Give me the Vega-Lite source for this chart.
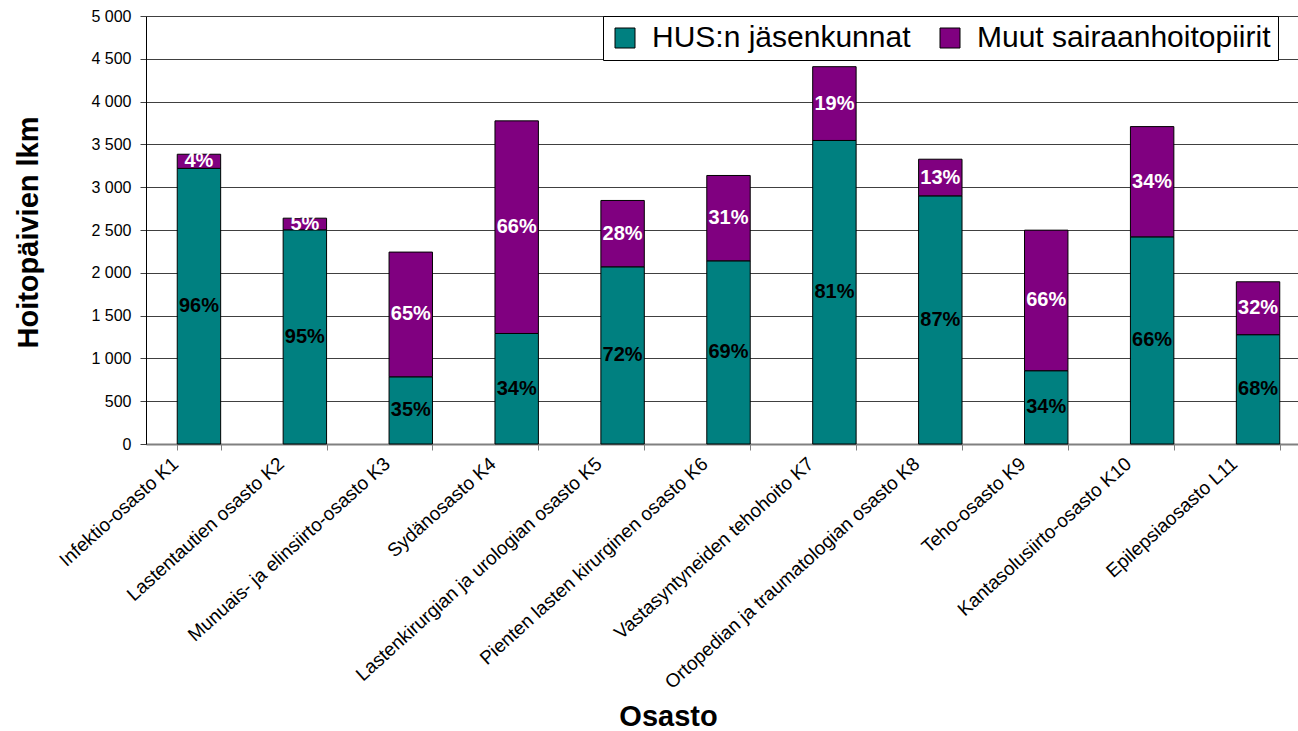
{
  "$schema": "https://vega.github.io/schema/vega-lite/v6.json",
  "autosize": {"type": "none"},
  "padding": {"left": 146, "top": 16, "right": 0, "bottom": 287},
  "width": 1152,
  "height": 428,
  "background": "white",
  "config": {
    "view": {"stroke": null},
    "font": "Liberation Sans",
    "axis": {"labelFont": "Liberation Sans", "titleFont": "Liberation Sans", "labelColor": "black", "titleColor": "black"}
  },
  "data": {
    "values": [
      {"osasto": "Infektio-osasto K1", "ryhma": "HUS:n jäsenkunnat", "paivat": 3220, "osuus": "96%"},
      {"osasto": "Infektio-osasto K1", "ryhma": "Muut sairaanhoitopiirit", "paivat": 165, "osuus": "4%"},
      {"osasto": "Lastentautien osasto K2", "ryhma": "HUS:n jäsenkunnat", "paivat": 2502, "osuus": "95%"},
      {"osasto": "Lastentautien osasto K2", "ryhma": "Muut sairaanhoitopiirit", "paivat": 136, "osuus": "5%"},
      {"osasto": "Munuais- ja elinsiirto-osasto K3", "ryhma": "HUS:n jäsenkunnat", "paivat": 785, "osuus": "35%"},
      {"osasto": "Munuais- ja elinsiirto-osasto K3", "ryhma": "Muut sairaanhoitopiirit", "paivat": 1457, "osuus": "65%"},
      {"osasto": "Sydänosasto K4", "ryhma": "HUS:n jäsenkunnat", "paivat": 1291, "osuus": "34%"},
      {"osasto": "Sydänosasto K4", "ryhma": "Muut sairaanhoitopiirit", "paivat": 2484, "osuus": "66%"},
      {"osasto": "Lastenkirurgian ja urologian osasto K5", "ryhma": "HUS:n jäsenkunnat", "paivat": 2070, "osuus": "72%"},
      {"osasto": "Lastenkirurgian ja urologian osasto K5", "ryhma": "Muut sairaanhoitopiirit", "paivat": 775, "osuus": "28%"},
      {"osasto": "Pienten lasten kirurginen osasto K6", "ryhma": "HUS:n jäsenkunnat", "paivat": 2140, "osuus": "69%"},
      {"osasto": "Pienten lasten kirurginen osasto K6", "ryhma": "Muut sairaanhoitopiirit", "paivat": 997, "osuus": "31%"},
      {"osasto": "Vastasyntyneiden tehohoito K7", "ryhma": "HUS:n jäsenkunnat", "paivat": 3546, "osuus": "81%"},
      {"osasto": "Vastasyntyneiden tehohoito K7", "ryhma": "Muut sairaanhoitopiirit", "paivat": 862, "osuus": "19%"},
      {"osasto": "Ortopedian ja traumatologian osasto K8", "ryhma": "HUS:n jäsenkunnat", "paivat": 2899, "osuus": "87%"},
      {"osasto": "Ortopedian ja traumatologian osasto K8", "ryhma": "Muut sairaanhoitopiirit", "paivat": 428, "osuus": "13%"},
      {"osasto": "Teho-osasto K9", "ryhma": "HUS:n jäsenkunnat", "paivat": 856, "osuus": "34%"},
      {"osasto": "Teho-osasto K9", "ryhma": "Muut sairaanhoitopiirit", "paivat": 1642, "osuus": "66%"},
      {"osasto": "Kantasolusiirto-osasto K10", "ryhma": "HUS:n jäsenkunnat", "paivat": 2420, "osuus": "66%"},
      {"osasto": "Kantasolusiirto-osasto K10", "ryhma": "Muut sairaanhoitopiirit", "paivat": 1288, "osuus": "34%"},
      {"osasto": "Epilepsiaosasto L11", "ryhma": "HUS:n jäsenkunnat", "paivat": 1277, "osuus": "68%"},
      {"osasto": "Epilepsiaosasto L11", "ryhma": "Muut sairaanhoitopiirit", "paivat": 618, "osuus": "32%"}
    ]
  },
  "encoding": {
    "x": {
      "field": "osasto", "type": "nominal", "sort": null,
      "scale": {"range": [0, 1165], "paddingInner": 0.59, "paddingOuter": 0.295},
      "axis": {
        "title": "Osasto", "titleFontSize": 29, "titleFontWeight": "bold",
        "titleX": 522, "titleY": 281, "titleAlign": "center", "titleBaseline": "alphabetic", "titleAnchor": "start",
        "labelAngle": -42, "labelAlign": "right", "labelBaseline": "top", "labelFontSize": 19,
        "labelOffset": -30, "labelPadding": 4, "labelLimit": 600,
        "tickBand": "extent", "tickSize": 6, "tickColor": "#808080",
        "domainColor": "#808080", "domainWidth": 2, "grid": false
      }
    },
    "y": {
      "field": "paivat", "type": "quantitative", "stack": "zero",
      "scale": {"domain": [0, 5000], "nice": false},
      "axis": {
        "title": "Hoitopäivien lkm", "titleFontSize": 29, "titleFontWeight": "bold",
        "titleAngle": -90, "titleX": -109, "titleY": 216, "titleAlign": "center", "titleBaseline": "alphabetic", "titleAnchor": "start",
        "values": [0, 500, 1000, 1500, 2000, 2500, 3000, 3500, 4000, 4500, 5000],
        "labelExpr": "replace(format(datum.value, ','), ',', ' ')",
        "labelFontSize": 16, "labelPadding": 9, "tickSize": 6, "tickColor": "#404040",
        "domainColor": "black", "domainWidth": 1,
        "grid": true, "gridColor": "#404040", "gridWidth": 1
      }
    },
    "order": {"field": "ryhma", "type": "nominal", "sort": "ascending"}
  },
  "layer": [
    {
      "mark": {"type": "bar", "stroke": "black", "strokeWidth": 1},
      "encoding": {
        "color": {
          "field": "ryhma", "type": "nominal",
          "scale": {"domain": ["HUS:n jäsenkunnat", "Muut sairaanhoitopiirit"], "range": ["#008080", "#800080"]},
          "legend": {
            "orient": "none", "legendX": 457, "legendY": 0, "direction": "horizontal", "title": null,
            "symbolType": "square", "symbolSize": 400, "symbolStrokeColor": "black", "symbolStrokeWidth": 1,
            "labelFont": "Liberation Sans", "labelFontSize": 30, "labelColor": "black", "labelLimit": 600,
            "labelOffset": 12, "columnPadding": 24, "padding": 7,
            "strokeColor": "black", "fillColor": "white",
            "encode": {"symbols": {"update": {"stroke": {"value": "black"}, "strokeWidth": {"value": 1}}}}
          }
        }
      }
    },
    {
      "mark": {"type": "text", "fontWeight": "bold", "fontSize": 20, "font": "Liberation Sans", "baseline": "middle", "align": "center"},
      "encoding": {
        "y": {"field": "paivat", "type": "quantitative", "stack": "zero", "bandPosition": 0.5},
        "detail": {"field": "ryhma"},
        "text": {"field": "osuus"},
        "color": {"condition": {"test": "datum.ryhma === 'HUS:n jäsenkunnat'", "value": "black"}, "value": "white"}
      }
    }
  ]
}
